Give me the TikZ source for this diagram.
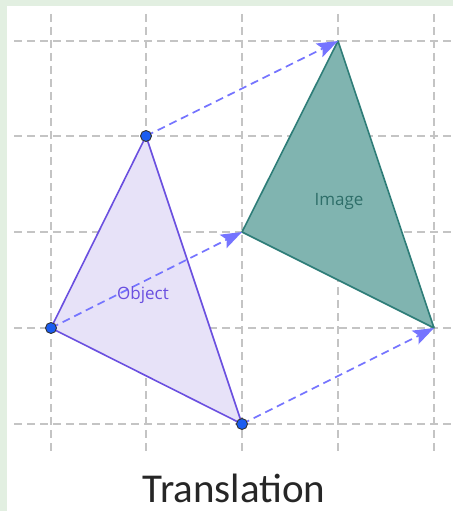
\documentclass[tikz,border=0pt]{standalone}
\usepackage{fontspec}
\setmainfont{Carlito}
\newfontfamily\labelfont{Open Sans}
\usetikzlibrary{arrows.meta}
\definecolor{bgreen}{HTML}{E2EFE1}
\definecolor{gridgray}{HTML}{C4C4C4}
\definecolor{objfill}{HTML}{E7E2F8}
\definecolor{objedge}{HTML}{6A4FE0}
\definecolor{imgfill}{HTML}{80B4B0}
\definecolor{imgedge}{HTML}{2E7D78}
\definecolor{imgtext}{HTML}{2E6E69}
\definecolor{arrowblue}{HTML}{7574FF}
\definecolor{dotblue}{HTML}{1A5CF0}
\tikzset{
  gridline/.style={gridgray, line width=1.5pt, dash pattern=on 8pt off 5pt},
  transarrow/.style={arrowblue, line width=1.7pt, dash pattern=on 8pt off 5pt, -{Stealth[length=21pt,width=15pt,inset=4pt]}},
  vdot/.style={circle, fill=dotblue, draw=black!80, line width=0.9pt, inner sep=0pt, minimum size=11pt},
  lbl/.style={font=\labelfont\fontsize{17}{20}\selectfont},
}
\begin{document}
\begin{tikzpicture}[x=1pt,y=-1pt]
\useasboundingbox (0,0) rectangle (453,511);
\fill[bgreen] (0,0) rectangle (453,511);
\fill[white] (7,6) rectangle (453,511);
% grid
\foreach \gx in {51,146,242,338,434} \draw[gridline] (\gx,14) -- (\gx,452);
\foreach \gy in {41,136,232,328,424} \draw[gridline] (14,\gy) -- (453,\gy);
% points
\coordinate (A) at (51,328);
\coordinate (B) at (146,136);
\coordinate (C) at (242,424);
\coordinate (A2) at (242,232);
\coordinate (B2) at (338,41);
\coordinate (C2) at (434,328);
% object
\filldraw[fill=objfill, draw=objedge, line width=1.6pt, line join=round] (A) -- (B) -- (C) -- cycle;
% image
\filldraw[fill=imgfill, draw=imgedge, line width=1.6pt, line join=round] (A2) -- (B2) -- (C2) -- cycle;
% arrows
\draw[transarrow] (A) -- (A2);
\draw[transarrow] (B) -- (B2);
\draw[transarrow] (C) -- (C2);
% vertex dots
\node[vdot] (dA) at (A) {};
\node[vdot] (dB) at (B) {};
\node[vdot] (dC) at (C) {};
% labels
\node[objedge, lbl] (lobj) at (143,295) {Object};
\node[imgtext, lbl] (limg) at (339,201) {Image};
\node[black!85, font=\fontsize{41}{46}\selectfont, anchor=base, inner sep=0pt] (title) at (234,502) {Translation};
\end{tikzpicture}
\end{document}
